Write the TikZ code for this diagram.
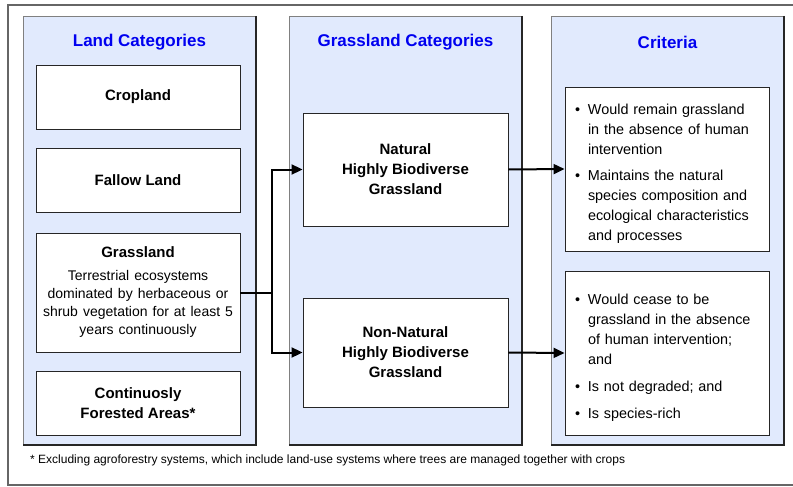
\documentclass[tikz,border=0pt]{standalone}
\usepackage{fontspec}
\setmainfont{Liberation Sans}
\usepackage{xcolor}
\usepackage{tikz}
\usetikzlibrary{arrows.meta}
\definecolor{panelblue}{RGB}{225,234,253}
\definecolor{titleblue}{RGB}{0,0,240}
\tikzset{
  frame/.style      = {draw=black!60, line width=1.2pt},
  panel/.style      = {draw=black!50, fill=panelblue, line width=0.8pt},
  panelshade/.style = {draw=black!85, line width=1.2pt},
  paneltitle/.style = {font=\fontsize{17}{20}\selectfont\bfseries, text=titleblue, inner sep=0pt},
  catbox/.style     = {draw=black!85, fill=white, line width=0.9pt, minimum width=204pt, align=center,
                       font=\fontsize{15}{20}\selectfont\bfseries, inner sep=0pt},
  critbox/.style    = {draw=black!85, fill=white, line width=0.9pt, minimum width=204pt, text width=184pt,
                       inner xsep=10pt, inner ysep=0pt, font=\fontsize{14.4}{20}\selectfont},
  flow/.style       = {-{Triangle[length=11pt,width=10pt]}, line width=2pt, black},
  foot/.style       = {font=\fontsize{12}{14}\selectfont, anchor=west, inner sep=0pt},
}
\newcommand{\crititem}[1]{\par\hangindent=13pt\hangafter=1\noindent\makebox[13pt][l]{\textbullet}#1\par}

\begin{document}
\begin{tikzpicture}[x=1pt,y=-1pt]
  \useasboundingbox (0,0) rectangle (793,487);
  % outer frame
  \draw[frame] (800,5) -- (8,5) -- (8,485) -- (800,485);

  % land categories
  \draw[panel] (23,16) rectangle (256,445);
  \draw[panelshade] (256,16) -- (256,445) -- (23,445);
  \node[paneltitle] (landtitle) at (139.5,42) {Land Categories};
  \node[catbox, minimum height=64pt] (crop) at (138,97) {Cropland};
  \node[catbox, minimum height=64pt] (fallow) at (138,180) {Fallow Land};
  \node[catbox, minimum height=119pt, text width=204pt] (grass) at (138,292.5)
    {Grassland\par\vspace{5pt}
     {\mdseries\fontsize{14}{18}\selectfont Terrestrial ecosystems\\dominated by herbaceous or\\shrub vegetation for at least 5\\years continuously\par}};
  \node[catbox, minimum height=64pt] (forest) at (138,403) {Continuosly\\Forested Areas*};

  % grassland categories
  \draw[panel] (289,16) rectangle (522,445);
  \draw[panelshade] (522,16) -- (522,445) -- (289,445);
  \node[paneltitle] (grasstitle) at (405.5,42) {Grassland Categories};
  \node[catbox, minimum width=205pt, minimum height=113pt] (natural) at (405.5,169.5)
    {Natural\\Highly Biodiverse\\Grassland};
  \node[catbox, minimum width=205pt, minimum height=109pt] (nonnat) at (405.5,352.5)
    {Non-Natural\\Highly Biodiverse\\Grassland};

  % criteria
  \draw[panel] (551,16) rectangle (784,445);
  \draw[panelshade] (784,16) -- (784,445) -- (551,445);
  \node[paneltitle] (crittitle) at (667.5,42) {Criteria};
  \node[critbox, minimum height=164pt] (critnat) at (667,169)
    {\crititem{Would remain grassland\newline in the absence of human\newline intervention}\vspace{6pt}
     \crititem{Maintains the natural\newline species composition and\newline ecological characteristics\newline and processes}};
  \node[critbox, minimum height=164pt] (critnon) at (667,353)
    {\crititem{Would cease to be\newline grassland in the absence\newline of human intervention;\newline and}\vspace{7pt}
     \crititem{Is not degraded; and}\vspace{7pt}
     \crititem{Is species-rich}};

  % connectors
  \coordinate (split) at (272,292.5);
  \draw[line width=2pt] (grass.east) -- (split);
  \draw[flow] (split) |- (natural.west);
  \draw[flow] (split) |- (nonnat.west);
  \draw[flow] (natural.east) -- (critnat.west);
  \draw[flow] (nonnat.east) -- (critnon.west);

  \node[foot] (note) at (30,460) {* Excluding agroforestry systems, which include land-use systems where trees are managed together with crops};
\end{tikzpicture}
\end{document}
